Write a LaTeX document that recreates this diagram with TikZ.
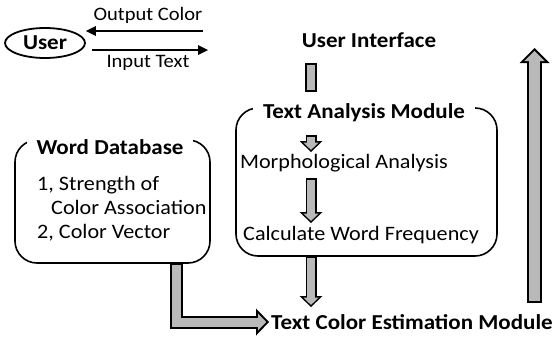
\documentclass[tikz,border=0pt]{standalone}
\usepackage{fontspec}
\setmainfont{Carlito}[FakeStretch=1.08]
\usetikzlibrary{arrows.meta}
\usetikzlibrary{calc}
\usetikzlibrary{shapes.geometric}

\tikzset{
	lbl/.style={font=\fontsize{20.5}{24}\selectfont, inner sep=0pt},
	small/.style={font=\fontsize{19}{22}\selectfont, inner sep=0pt},
	title/.style={font=\bfseries\fontsize{21.3}{25}\selectfont, inner sep=0pt},
	module/.style={draw, line width=1.6pt, rounded corners=22pt},
	flow/.style={line width=2.4pt, -{Triangle[length=10pt,width=10pt,line width=0pt]}},
	rim/.style n args={3}{draw=black, line width=#1, -{Triangle[width=#2,length=#3,line width=0pt]}},
	core/.style n args={4}{draw=gray!55, line width=#1, shorten <=1.8pt, shorten >=#4, -{Triangle[width=#2,length=#3,line width=0pt]}},
	smallrim/.style={rim={11pt}{23pt}{11pt}},
	smallcore/.style={core={8pt}{15.5pt}{7.4pt}{2.1pt}},
	lrim/.style={rim={13pt}{27pt}{13pt}},
	lcore/.style={core={9pt}{17pt}{8.2pt}{2.8pt}},
	bigrim/.style={rim={15pt}{30pt}{15pt}},
	bigcore/.style={core={11pt}{20.4pt}{10.2pt}{2.8pt}},
	barrim/.style={draw=black, line width=12pt},
	barcore/.style={draw=gray!55, line width=8pt, shorten <=2pt, shorten >=2pt},
}

\begin{document}
\begin{tikzpicture}[x=1pt, y=-1pt, line join=miter]
	\useasboundingbox (0,0) rectangle (552,338);
	\draw (45,43) node (user) [ellipse, draw, line width=1.8pt, minimum width=80pt, minimum height=30pt, title] {User};
	\draw (148,15) node (oc) [small] {Output Color};
	\draw (148,63) node (it) [small] {Input Text};
	\draw (369,40) node (ui) [title] {User Interface};
	\coordinate (ocs) at (203,31);
	\coordinate (ite) at (208,50);
	\draw[flow] (ocs) -- (ocs -| user.east);
	\draw[flow] (ite -| user.east) ++(6,0) -- (ite);

	\draw[module] (236,108) rectangle (497,256);
	\node (tam) [title, fill=white, inner xsep=10pt, inner ysep=2pt] at (364,113) {Text Analysis Module};
	\draw (344,163) node (morph) [lbl] {Morphological Analysis};
	\draw (361,235) node (calc) [lbl] {Calculate Word Frequency};

	\draw[module] (15,140) rectangle (210,263);
	\node (wdb) [title, fill=white, inner xsep=10pt, inner ysep=2pt] at (110,147) {Word Database};
	\draw (37,185) node (s1) [lbl, anchor=west] {1, Strength of};
	\draw (51,207) node (s2) [lbl, anchor=west] {Color Association};
	\draw (37,233) node (s3) [lbl, anchor=west] {2, Color Vector};

	\draw (412,322) node (tce) [title] {Text Color Estimation Module};

	\coordinate (col) at (311,0);
	\coordinate (wcol) at (176.5,0);
	\coordinate (rcol) at (534.5,0);
	\foreach \lay in {barrim,barcore}
		\draw[\lay] (col |- 0,63) -- (col |- 0,92);
	\foreach \lay in {smallrim,smallcore} {
		\draw[\lay] (col |- 0,135) -- (col |- 0,152);
		\draw[\lay] (col |- 0,178) -- (col |- 0,223);
		\draw[\lay] (col |- 0,256) -- (col |- 0,307);
	}
	\foreach \lay in {lrim,lcore}
		\draw[\lay] (wcol |- 0,263) |- ($(tce.west)+(-2,0)$);
	\foreach \lay in {bigrim,bigcore}
		\draw[\lay] (rcol |- 0,303) -- (rcol |- 0,48);
\end{tikzpicture}
\end{document}
